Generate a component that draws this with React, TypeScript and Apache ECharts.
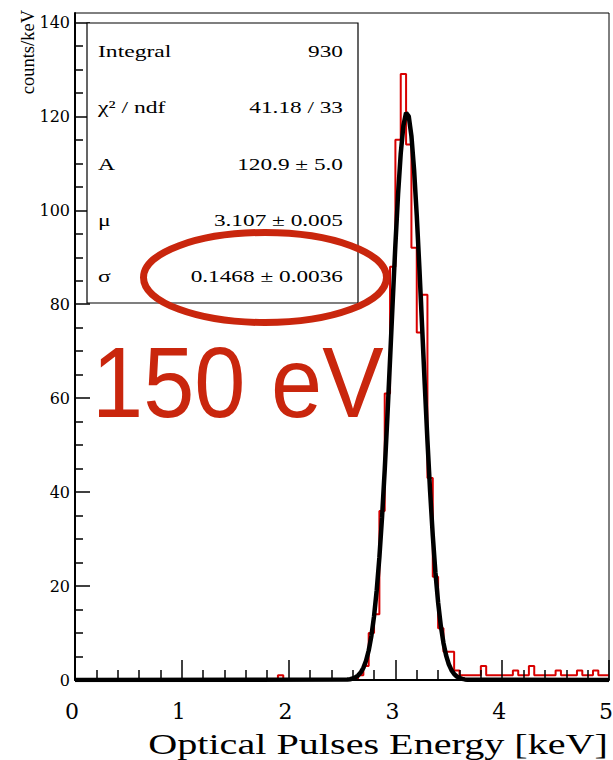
import React, { useEffect, useRef } from "react";
import * as echarts from "echarts";

// ---- data ----
const binWidth = 0.05; // keV per bin, 100 bins over 0..5 keV
const binCounts = [
  0, 0, 0, 0, 0, 0, 0, 0, 0, 0,
  0, 0, 0, 0, 0, 0, 0, 0, 0, 0,
  0, 0, 0, 0, 0, 0, 0, 0, 0, 0,
  0, 0, 0, 0, 0, 0, 0, 0, 1, 0,
  0, 0, 0, 0, 0, 0, 0, 0, 0, 0,
  0, 0, 0, 1, 3, 10, 14, 36, 61, 88,
  115, 129, 114, 92, 74, 82, 43, 22, 11, 6,
  6, 2, 1, 1, 1, 1, 3, 1, 1, 1,
  1, 1, 2, 1, 1, 3, 1, 1, 1, 1,
  2, 1, 1, 1, 2, 1, 1, 2, 1, 1,
];

// Gaussian fit curve
const fitX = [
  0, 2.55, 2.575, 2.6, 2.625, 2.65, 2.675, 2.7, 2.725, 2.75, 2.775, 2.8, 2.825, 2.85,
  2.875, 2.9, 2.925, 2.95, 2.975, 3.0, 3.025, 3.05, 3.075, 3.1, 3.125, 3.15, 3.175,
  3.2, 3.225, 3.25, 3.275, 3.3, 3.325, 3.35, 3.375, 3.4, 3.425, 3.45, 3.475, 3.5,
  3.525, 3.55, 3.575, 3.6, 3.625, 3.65, 3.675, 3.7, 5,
];
const fitY = [
  0, 0.09, 0.17, 0.31, 0.55, 0.95, 1.59, 2.59, 4.09, 6.28, 9.36, 13.57, 19.1, 26.1,
  34.67, 44.75, 56.05, 68.24, 80.71, 92.7, 103.44, 112.12, 118.06, 120.76, 120.0,
  115.82, 108.6, 98.92, 87.52, 75.22, 62.81, 50.94, 40.14, 30.72, 22.84, 16.49, 11.57,
  7.89, 5.22, 3.36, 2.1, 1.27, 0.75, 0.43, 0.24, 0.13, 0.07, 0.04, 0,
];

const yMajorTicks = [0, 20, 40, 60, 80, 100, 120, 140];
const yMinorTicks = [5, 10, 15, 25, 30, 35, 45, 50, 55, 65, 70, 75, 85, 90, 95, 105, 110, 115, 125, 130, 135];

const statsLabels = ["Integral", "χ² / ndf", "A", "μ", "σ"];
const statsValues = ["930", "41.18 / 33", "120.9 ± 5.0", "3.107 ± 0.005", "0.1468 ± 0.0036"];

const xTitle = "Optical Pulses Energy [keV]";
const yTitle = "counts/keV";
const annotation = "150 eV";

export default function App() {
  const ref = useRef<HTMLDivElement>(null);

  useEffect(() => {
    if (!ref.current) return;
    const chart = echarts.init(ref.current, null, { renderer: "svg" });

    const histData: number[][] = binCounts.map((c, i) => [+(i * binWidth).toFixed(2), c]);
    histData.push([+(binCounts.length * binWidth).toFixed(2), binCounts[binCounts.length - 1]]);
    const fitData = fitX.map((x, i) => [x, fitY[i]]);

    const red = "#c9260d";
    const rowY = [51, 107, 164, 220, 276];

    const graphics: any[] = [
      {
        type: "rect",
        z: 100,
        shape: { x: 87, y: 23, width: 271, height: 280 },
        style: { fill: "#fff", stroke: "#000", lineWidth: 1.2 },
      },
    ];
    statsLabels.forEach((t, i) => {
      graphics.push({
        type: "text",
        z: 101,
        x: 98,
        y: rowY[i],
        scaleX: 1.35,
        style: {
          text: t,
          fill: "#000",
          fontFamily: "Liberation Serif",
          fontSize: 17.5,
          align: "left",
          verticalAlign: "middle",
        },
      });
      graphics.push({
        type: "text",
        z: 101,
        x: 343,
        y: rowY[i],
        scaleX: 1.33,
        style: {
          text: statsValues[i],
          fill: "#000",
          fontFamily: "Liberation Serif",
          fontSize: 17.5,
          align: "right",
          verticalAlign: "middle",
        },
      });
    });
    graphics.push({
      type: "ellipse",
      z: 102,
      shape: { cx: 265, cy: 277.5, rx: 121.5, ry: 45 },
      style: { fill: "none", stroke: red, lineWidth: 7 },
    });
    graphics.push({
      type: "text",
      z: 102,
      x: 92,
      y: 382,
      scaleX: 0.92,
      style: {
        text: annotation,
        fill: red,
        fontFamily: "Liberation Sans",
        fontSize: 100,
        align: "left",
        verticalAlign: "middle",
      },
    });
    graphics.push({
      type: "text",
      z: 101,
      x: 608,
      y: 744,
      scaleX: 1.385,
      style: {
        text: xTitle,
        fill: "#000",
        fontFamily: "Liberation Serif",
        fontSize: 29,
        lineHeight: 29,
        align: "right",
        verticalAlign: "middle",
      },
    });
    graphics.push({
      type: "text",
      z: 101,
      x: 28,
      y: 10,
      rotation: Math.PI / 2,
      style: {
        text: yTitle,
        fill: "#000",
        fontFamily: "Liberation Serif",
        fontSize: 18.5,
        align: "right",
        verticalAlign: "middle",
      },
    });

    chart.setOption({
      animation: false,
      backgroundColor: "#fff",
      grid: {
        left: 75,
        top: 13,
        width: 534,
        height: 667,
        outerBoundsMode: "none",
        containLabel: false,
        show: true,
        borderColor: "#000",
        borderWidth: 1,
        backgroundColor: "transparent",
      },
      xAxis: {
        type: "value",
        min: 0,
        max: 5,
        interval: 1,
        z: 5,
        axisLine: { show: true, onZero: false, lineStyle: { color: "#000", width: 2 } },
        axisTick: { show: true, inside: true, length: 20, lineStyle: { color: "#000", width: 1.5 } },
        minorTick: { show: true, splitNumber: 5, length: 10, lineStyle: { color: "#000", width: 1.5 } },
        axisLabel: {
          color: "#000",
          fontFamily: "DejaVu Serif",
          fontSize: 22,
          margin: 20,
          padding: [0, 6, 0, 0],
        },
        splitLine: { show: false },
        minorSplitLine: { show: false },
      },
      yAxis: [
        {
          type: "value",
          min: 0,
          max: 142,
          position: "left",
          z: 5,
          axisLine: { show: true, onZero: false, lineStyle: { color: "#000", width: 2 } },
          axisTick: {
            show: true,
            inside: true,
            length: 15,
            customValues: yMajorTicks,
            lineStyle: { color: "#000", width: 1.5 },
          },
          axisLabel: {
            customValues: yMajorTicks,
            color: "#000",
            fontFamily: "DejaVu Serif",
            fontSize: 16,
            margin: 5,
          },
          splitLine: { show: false },
        },
        {
          type: "value",
          min: 0,
          max: 142,
          position: "left",
          z: 5,
          axisLine: { show: false },
          axisTick: {
            show: true,
            inside: true,
            length: 8,
            customValues: yMinorTicks,
            lineStyle: { color: "#000", width: 1.5 },
          },
          axisLabel: { show: false },
          splitLine: { show: false },
        },
      ],
      series: [
        {
          type: "line",
          name: "histogram",
          data: histData,
          step: "end",
          showSymbol: false,
          yAxisIndex: 0,
          lineStyle: { color: "#d80000", width: 2 },
          itemStyle: { color: "#d80000" },
          z: 2,
        },
        {
          type: "line",
          name: "fit",
          data: fitData,
          showSymbol: false,
          yAxisIndex: 0,
          lineStyle: { color: "#000", width: 4.5 },
          itemStyle: { color: "#000" },
          z: 3,
        },
      ],
      graphic: graphics,
    });

    return () => chart.dispose();
  }, []);

  return (
    <div
      ref={ref}
      style={{ position: "fixed", left: 0, top: 0, width: 613, height: 760, background: "#fff" }}
    />
  );
}
